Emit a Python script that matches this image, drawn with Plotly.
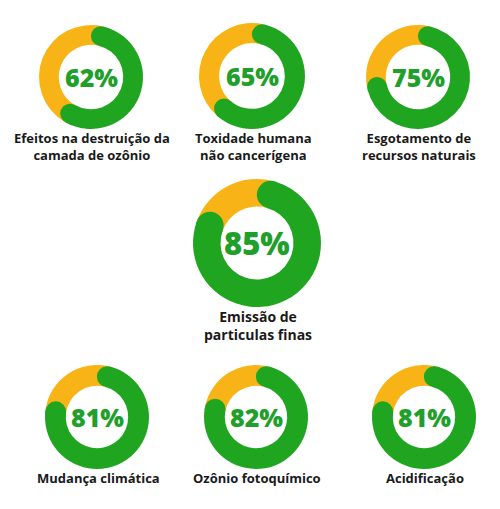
import math
import plotly.graph_objects as go

# --- dados ---
labels = [
    "Efeitos na destruição da<br>camada de ozônio",
    "Toxidade humana<br>não cancerígena",
    "Esgotamento de<br>recursos naturais",
    "Emissão de<br>particulas finas",
    "Mudança climática",
    "Ozônio fotoquímico",
    "Acidificação",
]
percentuais = [62, 65, 75, 85, 81, 82, 81]

# --- layout (pixels): centro x, centro y, raio ---
W, H = 500, 509
centros_x = [91, 252, 418, 257, 97, 256, 424]
centros_y = [77, 76, 77, 243, 417, 417, 417]
raios = [52, 53, 52, 64, 52, 52, 52]
furos = [0.62, 0.62, 0.62, 0.57, 0.6, 0.6, 0.6]

VERDE = "#1fa51f"
LARANJA = "#f8b416"
TEXTO_VERDE = "#20a02a"
FONTE = "Open Sans"

fig = go.Figure()
shapes = []
annotations = []

for i, p in enumerate(percentuais):
    cx, cy, r, h = centros_x[i], centros_y[i], raios[i], furos[i]
    espessura = r * (1 - h)
    r_meio = r * (1 + h) / 2
    # meia-espessura em % da volta, para as pontas arredondadas
    d = math.degrees(espessura / 2 / r_meio) / 3.6

    fig.add_trace(go.Pie(
        values=[p - 2 * d, 100 - p + 2 * d],
        marker=dict(colors=[VERDE, LARANJA], line=dict(width=0)),
        hole=h,
        sort=False,
        direction="clockwise",
        rotation=d * 3.6,
        textinfo="none",
        hoverinfo="skip",
        showlegend=False,
        domain=dict(x=[(cx - r) / W, (cx + r) / W],
                    y=[1 - (cy + r) / H, 1 - (cy - r) / H]),
    ))

    # pontas arredondadas do arco verde
    for ang in (d * 3.6, (p - d) * 3.6):
        a = math.radians(ang)
        px = cx + r_meio * math.sin(a)
        py = cy - r_meio * math.cos(a)
        rr = espessura / 2
        shapes.append(dict(type="circle", xref="x", yref="y", layer="above",
                           x0=px - rr, x1=px + rr, y0=py - rr, y1=py + rr,
                           fillcolor=VERDE, line=dict(width=0)))

    tam = 31 if i == 3 else 25
    annotations.append(dict(x=cx, y=cy, xref="x", yref="y", text=f"{p}%",
                            showarrow=False,
                            font=dict(family=FONTE, size=tam, color=TEXTO_VERDE, weight=800)))
    annotations.append(dict(x=cx + 1, y=cy + r - 2, xref="x", yref="y", yanchor="top",
                            text=f"<b>{labels[i]}</b>", showarrow=False,
                            font=dict(family=FONTE, size=14 if i == 3 else 13, color="#1a1a1a")))

fig.update_layout(
    width=W, height=H,
    margin=dict(l=0, r=0, t=0, b=0),
    paper_bgcolor="white",
    plot_bgcolor="white",
    xaxis=dict(range=[0, W], visible=False, fixedrange=True),
    yaxis=dict(range=[H, 0], visible=False, fixedrange=True),
    shapes=shapes,
    annotations=annotations,
)

# sem a margem padrão do body, para o gráfico ocupar a janela inteira
fig.write_html("out.html", config={"displayModeBar": False},
               post_script="document.body.style.margin='0';")
